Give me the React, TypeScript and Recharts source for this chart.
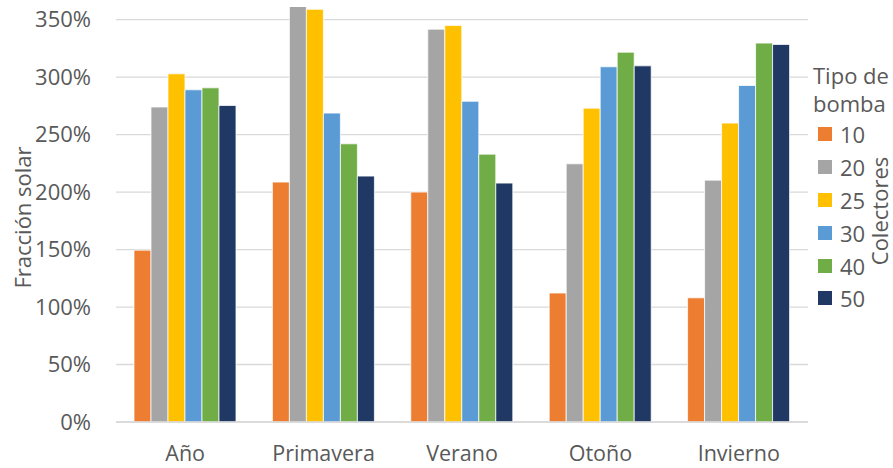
import React from 'react';
import {
  BarChart, Bar, XAxis, YAxis, CartesianGrid, Legend, Label,
} from 'recharts';

const categories = ['Año', 'Primavera', 'Verano', 'Otoño', 'Invierno'];

// fracción solar (%) por tipo de bomba
const s10 = [149.5, 208.7, 200, 112.2, 108];
const s20 = [274, 362, 341.7, 224.6, 210.4];
const s25 = [302.9, 359, 345, 273, 260];
const s30 = [289, 268.7, 279, 309, 292.7];
const s40 = [290.7, 242, 233, 321.7, 329.6];
const s50 = [275.3, 213.9, 207.8, 309.8, 328.4];

const seriesNames = ['10', '20', '25', '30', '40', '50'];
const yTicks = [0, 50, 100, 150, 200, 250, 300, 350];

const COLORS = ['#ED7D31', '#A5A5A5', '#FFC000', '#5B9BD5', '#70AD47', '#1F3864'];
const FONT = '"Open Sans", sans-serif';
const TEXT = '#595959';
const GRID = '#D9D9D9';

const data = categories.map((name, i) => ({
  name,
  s10: s10[i],
  s20: s20[i],
  s25: s25[i],
  s30: s30[i],
  s40: s40[i],
  s50: s50[i],
}));
const keys = ['s10', 's20', 's25', 's30', 's40', 's50'];

// legend box sits at (805, 50) of the chart
const renderLegend = (props: any) => {
  const { payload } = props;
  return (
    <div style={{ position: 'relative', width: 86, height: 300, fontFamily: FONT, color: TEXT }}>
      <div style={{ position: 'absolute', left: 8, top: 11, fontSize: 22, lineHeight: '28px', whiteSpace: 'nowrap' }}>
        Tipo de<br />bomba
      </div>
      <ul style={{ position: 'absolute', left: 13, top: 68, margin: 0, padding: 0, listStyle: 'none' }}>
        {(payload || []).map((entry: any, index: number) => (
          <li key={`item-${index}`} style={{ display: 'flex', alignItems: 'center', height: 32.8 }}>
            <span style={{ display: 'inline-block', width: 14, height: 14, background: entry.color, marginRight: 8 }} />
            <span style={{ fontSize: 22 }}>{entry.value}</span>
          </li>
        ))}
      </ul>
      <div
        style={{
          position: 'absolute', left: 63, top: 161, fontSize: 22, lineHeight: '22px', whiteSpace: 'nowrap',
          writingMode: 'vertical-rl', transform: 'translateY(-50%) rotate(180deg)',
        }}
      >
        Colectores
      </div>
    </div>
  );
};

export default function App() {
  return (
    <div style={{ position: 'absolute', left: 0, top: 0, width: 893, height: 468, background: '#fff' }}>
      <BarChart
        width={893}
        height={468}
        data={data}
        margin={{ top: 7, right: 85, bottom: 0, left: 0 }}
        barCategoryGap="13%"
        barGap={0}
      >
        <CartesianGrid vertical={false} syncWithTicks stroke={GRID} strokeWidth={1.3} />
        <XAxis
          dataKey="name"
          height={46}
          tickLine={false}
          tickSize={6}
          tickMargin={18}
          axisLine={{ stroke: GRID, strokeWidth: 1.3 }}
          tick={{ fill: TEXT, fontSize: 21.5, fontFamily: FONT }}
        />
        <YAxis
          width={116}
          domain={[0, 361]}
          ticks={yTicks}
          allowDataOverflow
          tickFormatter={(v: number) => `${v}%`}
          tickLine={false}
          axisLine={false}
          tickSize={6}
          tickMargin={19}
          tick={{ fill: TEXT, fontSize: 22, fontFamily: FONT }}
        >
          <Label
            content={({ viewBox }: any) => {
              const x = viewBox.x + 31;
              const y = viewBox.y + viewBox.height / 2 + 3;
              return (
                <text
                  x={x}
                  y={y}
                  transform={`rotate(-90 ${x} ${y})`}
                  textAnchor="middle"
                  fill={TEXT}
                  fontSize={22}
                  fontFamily={FONT}
                >
                  Fracción solar
                </text>
              );
            }}
          />
        </YAxis>
        <Legend
          layout="vertical"
          align="center"
          verticalAlign="middle"
          wrapperStyle={{ left: 805, top: 50, width: 86, height: 300 }}
          content={renderLegend}
        />
        {keys.map((k, i) => (
          <Bar
            key={k}
            dataKey={k}
            name={seriesNames[i]}
            fill={COLORS[i]}
            stroke="#ffffff"
            strokeWidth={0.75}
            isAnimationActive={false}
          />
        ))}
      </BarChart>
    </div>
  );
}
